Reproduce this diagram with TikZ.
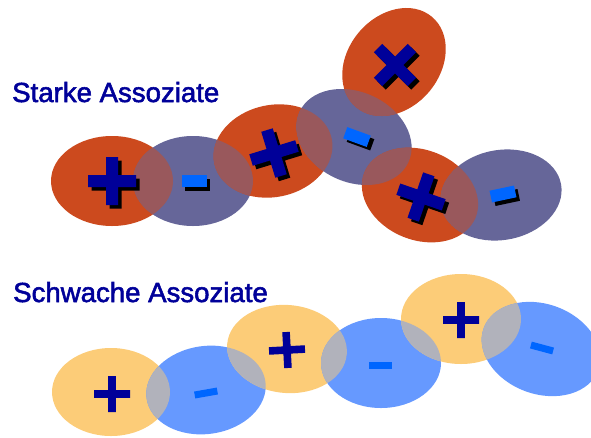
\documentclass[tikz,border=0pt]{standalone}
\usepackage{fontspec}
\setmainfont{Liberation Sans}
\newfontfamily\captionfont{Liberation Sans}[BoldFont={Liberation Sans}, BoldFeatures={FakeBold=2}]

\definecolor{strongpos}{HTML}{CC4A1E}
\definecolor{strongneg}{HTML}{666699}
\definecolor{weakpos}{HTML}{FCCC78}
\definecolor{weakneg}{HTML}{6699FF}
\definecolor{signblue}{HTML}{000099}
\definecolor{minusblue}{HTML}{0066FF}
\definecolor{labelblue}{HTML}{000099}
\colorlet{strongmix}{strongpos!50!strongneg}
\colorlet{weakmix}{weakpos!50!weakneg}

% ion clouds: centre, semi-axes, tilt
\tikzset{
  % strong associates
  sA/.style={shift={(112,181)}, rotate=0,   x radius=61, y radius=45},
  sB/.style={shift={(193,181)}, rotate=0,   x radius=60, y radius=45},
  sC/.style={shift={(273,151)}, rotate=12,  x radius=60, y radius=46},
  sD/.style={shift={(354,137)}, rotate=-25, x radius=60, y radius=45},
  sE/.style={shift={(394,62)},  rotate=50,  x radius=59, y radius=46},
  sF/.style={shift={(420,195)}, rotate=-22, x radius=60, y radius=45},
  sG/.style={shift={(501,195)}, rotate=10,  x radius=61, y radius=45},
  % weak associates
  wA/.style={shift={(111,392)}, rotate=0,   x radius=59, y radius=44},
  wB/.style={shift={(206,390)}, rotate=8,   x radius=60, y radius=44},
  wC/.style={shift={(287,349)}, rotate=-5,  x radius=60, y radius=44},
  wD/.style={shift={(381,363)}, rotate=0,   x radius=60, y radius=45},
  wE/.style={shift={(461,319)}, rotate=0,   x radius=60, y radius=45},
  wF/.style={shift={(541,349)}, rotate=-20, x radius=61, y radius=45},
  % charge signs
  bigplus/.pic={\fill[pic actions] (-24,-6) rectangle (24,6) (-6,-24) rectangle (6,24);},
  bigminus/.pic={\fill[pic actions] (-12.5,-6) rectangle (12.5,6);},
  smallplus/.pic={\fill[pic actions] (-18,-3.8) rectangle (18,3.8) (-3.8,-18) rectangle (3.8,18);},
  smallminus/.pic={\fill[pic actions] (-11.5,-3.5) rectangle (11.5,3.5);},
  caption/.style={anchor=base west, inner sep=0pt, text=labelblue,
    font=\captionfont\bfseries\fontsize{27.6}{30}\selectfont},
}

% filled cloud
\newcommand\cloud[2]{\fill[#2, #1] (0,0) ellipse [];}
% lens where two clouds overlap
\newcommand\lens[3]{%
  \begin{scope}
    \clip[#1] (0,0) ellipse [];
    \fill[#3, #2] (0,0) ellipse [];
  \end{scope}}
% sign with drop shadow
\newcommand\shadowsign[5]{%
  \pic[rotate=#4, fill=black] at (#2+3.5,#3+3.5) {#1};
  \pic[rotate=#4, fill=#5] at (#2,#3) {#1};}
\newcommand\flatsign[5]{\pic[rotate=#4, fill=#5] at (#2,#3) {#1};}

\begin{document}
\begin{tikzpicture}[x=1pt, y=-1pt]
\useasboundingbox (0,0) rectangle (591,437);
\clip (0,0) rectangle (591,437);

% captions
\node[caption] (strongcap) at (12,102) {Starke Assoziate};
\node[caption] (weakcap) at (13,302) {Schwache Assoziate};

% strong associates
\cloud{sA}{strongpos}
\cloud{sB}{strongneg}
\cloud{sC}{strongpos}
\cloud{sD}{strongneg}
\cloud{sE}{strongpos}
\cloud{sF}{strongpos}
\cloud{sG}{strongneg}
\lens{sA}{sB}{strongmix}
\lens{sB}{sC}{strongmix}
\lens{sC}{sD}{strongmix}
\lens{sD}{sE}{strongmix}
\lens{sD}{sF}{strongmix}
\lens{sF}{sG}{strongmix}

\shadowsign{bigplus}{112}{181}{0}{signblue}
\shadowsign{bigminus}{194}{181}{0}{minusblue}
\shadowsign{bigplus}{274}{153}{17}{signblue}
\shadowsign{bigplus}{395}{65}{45}{signblue}
\shadowsign{bigminus}{357}{137}{-20}{minusblue}
\shadowsign{bigplus}{421}{197}{-19}{signblue}
\shadowsign{bigminus}{503}{194}{12}{minusblue}

% weak associates
\cloud{wA}{weakpos}
\cloud{wB}{weakneg}
\cloud{wC}{weakpos}
\cloud{wD}{weakneg}
\cloud{wE}{weakpos}
\cloud{wF}{weakneg}
\lens{wA}{wB}{weakmix}
\lens{wB}{wC}{weakmix}
\lens{wC}{wD}{weakmix}
\lens{wD}{wE}{weakmix}
\lens{wE}{wF}{weakmix}

\flatsign{smallplus}{112}{394}{0}{signblue}
\flatsign{smallminus}{206}{393}{10}{minusblue}
\flatsign{smallplus}{287}{350}{3}{signblue}
\flatsign{smallminus}{380}{365}{0}{minusblue}
\flatsign{smallplus}{461}{320}{0}{signblue}
\flatsign{smallminus}{542}{348}{-15}{minusblue}
\end{tikzpicture}
\end{document}
